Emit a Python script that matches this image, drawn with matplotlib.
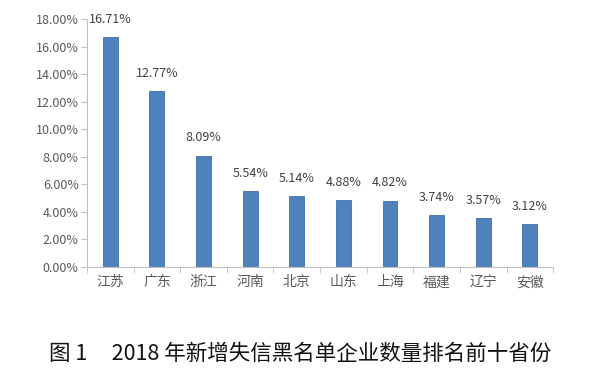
import numpy as np
import matplotlib.pyplot as plt
from matplotlib.ticker import FuncFormatter, FixedLocator

plt.rcParams['font.family'] = ['Noto Sans CJK SC', 'DejaVu Sans']

provinces = ["江苏", "广东", "浙江", "河南", "北京", "山东", "上海", "福建", "辽宁", "安徽"]
shares = [16.71, 12.77, 8.09, 5.54, 5.14, 4.88, 4.82, 3.74, 3.57, 3.12]
y_ticks = [0, 2, 4, 6, 8, 10, 12, 14, 16, 18]
caption = "图 1     2018 年新增失信黑名单企业数量排名前十省份"

BAR = "#4f81bd"
TEXT = "#595959"
AXIS = "#bfbfbf"

fig = plt.figure(figsize=(6, 3.88), dpi=100)
ax = fig.add_axes([0.145, 0.312, 0.777, 0.639])

x = np.arange(len(provinces))
ax.bar(x, shares, width=0.32, color=BAR, edgecolor="#3f6fa8", linewidth=0.6)

for xi, v in zip(x, shares):
    ax.annotate(f"{v:.2f}%", (xi, v), xytext=(0, 8), textcoords="offset points",
                ha="center", va="bottom", fontsize=9, color="#404040",
                annotation_clip=False)

ax.set_xlim(-0.5, len(provinces) - 0.5)
ax.set_ylim(0, 18)
ax.set_yticks(y_ticks)
ax.yaxis.set_major_formatter(FuncFormatter(lambda v, p: f"{v:.2f}%"))
ax.set_xticks(x)
ax.set_xticklabels(provinces)
ax.xaxis.set_minor_locator(FixedLocator(np.arange(-0.5, len(provinces), 1.0)))
ax.tick_params(axis="x", which="major", length=0, pad=6, labelsize=10, labelcolor=TEXT)
ax.tick_params(axis="x", which="minor", length=4, color=AXIS, direction="out")
ax.tick_params(axis="y", length=4, color=AXIS, labelsize=9, labelcolor=TEXT, pad=2)

for s in ["top", "right"]:
    ax.spines[s].set_visible(False)
for s in ["left", "bottom"]:
    ax.spines[s].set_color(AXIS)
    ax.spines[s].set_linewidth(0.8)

fig.text(0.5, 0.088, caption, ha="center", va="center", fontsize=15.5,
         color="#111111", fontweight="medium")

fig.savefig("out.png", dpi=100, facecolor="white")
